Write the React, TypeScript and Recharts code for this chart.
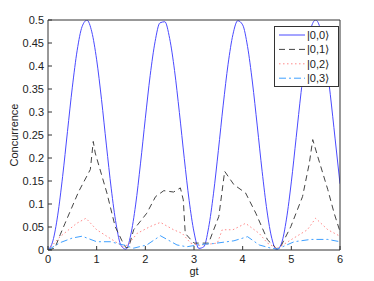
import { LineChart, Line, XAxis, YAxis } from "recharts";

// gt grid and |0,0> values
const gtGrid = [
  0, 0.1, 0.2, 0.3, 0.4, 0.5, 0.6, 0.7, 0.8, 0.9, 1.0, 1.1, 1.2, 1.3, 1.4, 1.5, 1.6, 1.7, 1.8, 1.9,
  2.0, 2.1, 2.2, 2.3, 2.4, 2.5, 2.6, 2.7, 2.8, 2.9, 3.0, 3.1, 3.2, 3.3, 3.4, 3.5, 3.6, 3.7, 3.8, 3.9,
  4.0, 4.1, 4.2, 4.3, 4.4, 4.5, 4.6, 4.7, 4.8, 4.9, 5.0, 5.1, 5.2, 5.3, 5.4, 5.5, 5.6, 5.7, 5.8, 5.9, 6.0,
];
const ket00 = [
  0, 0.0197, 0.0758, 0.1594, 0.2573, 0.354, 0.4343, 0.4855, 0.4996, 0.4742, 0.4134, 0.3268, 0.2281,
  0.1329, 0.0561, 0.01, 0.0017, 0.0326, 0.0979, 0.1872, 0.2864, 0.3798, 0.4528, 0.4937, 0.4962, 0.4597,
  0.3903, 0.2986, 0.1993, 0.1079, 0.039, 0.0035, 0.0068, 0.0485, 0.1221, 0.2158, 0.315, 0.4038, 0.4684,
  0.4985, 0.4894, 0.4425, 0.3652, 0.2697, 0.1711, 0.0849, 0.0248, 0.0003, 0.0152, 0.0672, 0.148, 0.2449,
  0.3426, 0.4257, 0.4811, 0.5, 0.4794, 0.4226, 0.3385, 0.2415, 0.144,
];

// |0,1>
const gt01 = [0, 0.14, 0.25, 0.35, 0.63, 0.87, 0.93, 0.97, 1.21, 1.38, 1.52, 1.6, 1.66, 1.76, 2.03, 2.21, 2.38, 2.58, 2.72, 2.78, 2.82, 3.0, 3.3, 3.51, 3.63, 3.82, 4.06, 4.27, 4.51, 4.7, 4.78, 4.99, 5.23, 5.37, 5.44, 5.54, 5.75, 5.88, 6.0];
const ket01 = [0, 0.004, 0.033, 0.058, 0.127, 0.175, 0.236, 0.211, 0.124, 0.051, 0.02, 0.005, 0.006, 0.044, 0.08, 0.116, 0.129, 0.126, 0.135, 0.109, 0.036, 0.015, 0.015, 0.073, 0.171, 0.142, 0.124, 0.08, 0.022, 0.003, 0.007, 0.051, 0.116, 0.189, 0.24, 0.204, 0.131, 0.08, 0.04];

// |0,2>
const gt02 = [0, 0.25, 0.59, 0.78, 1.0, 1.28, 1.55, 1.65, 1.83, 2.1, 2.31, 2.58, 2.76, 2.93, 3.1, 3.48, 3.58, 3.8, 4.06, 4.34, 4.51, 4.71, 4.99, 5.33, 5.5, 5.75, 6.0];
const ket02 = [0, 0.029, 0.058, 0.069, 0.044, 0.025, 0.007, 0.012, 0.036, 0.051, 0.06, 0.044, 0.036, 0.015, 0.01, 0.015, 0.044, 0.044, 0.058, 0.036, 0.015, 0.003, 0.022, 0.044, 0.069, 0.044, 0.03];

// |0,3>
const gt03 = [0, 0.25, 0.5, 0.7, 1.0, 1.28, 1.55, 1.76, 2.03, 2.31, 2.65, 2.85, 3.13, 3.4, 3.82, 4.1, 4.34, 4.58, 4.71, 5.06, 5.4, 5.75, 6.0];
const ket03 = [0, 0.016, 0.026, 0.03, 0.018, 0.018, 0.011, 0.004, 0.011, 0.031, 0.011, 0.007, 0.012, 0.014, 0.02, 0.029, 0.011, 0.004, 0.002, 0.018, 0.023, 0.023, 0.018];

const xTicks = [0, 1, 2, 3, 4, 5, 6];
const yTicks = [0, 0.05, 0.1, 0.15, 0.2, 0.25, 0.3, 0.35, 0.4, 0.45, 0.5];
const seriesNames = ["|0,0\u27E9", "|0,1\u27E9", "|0,2\u27E9", "|0,3\u27E9"];

const zip = (xs: number[], ys: number[]) => xs.map((x, i) => ({ gt: x, v: ys[i] }));

const AXIS = "#333333";
const FONT = "'Liberation Sans', Arial, sans-serif";
const styles = [
  { stroke: "#4a4aff", dash: undefined },
  { stroke: "#444444", dash: "6 4" },
  { stroke: "#ff8a8a", dash: "1.5 2.5" },
  { stroke: "#3fa0ff", dash: "7 3 2 3" },
];

// bottom tick: label plus inward tick mark
const BottomTick = (props: any) => {
  const { x, y, payload } = props;
  const axisY = y - 2 - 2;
  return (
    <g>
      <line x1={x} x2={x} y1={axisY} y2={axisY - 4} stroke={AXIS} />
      <text x={x} y={y} dy={9} textAnchor="middle" fontSize={11} fontFamily={FONT} fill="#222">
        {payload.value}
      </text>
    </g>
  );
};

const LeftTick = (props: any) => {
  const { x, y, payload } = props;
  const axisX = x + 2 + 2;
  return (
    <g>
      <line x1={axisX} x2={axisX + 4} y1={y} y2={y} stroke={AXIS} />
      <text x={x} y={y} dy={4} textAnchor="end" fontSize={11} fontFamily={FONT} fill="#222">
        {payload.value}
      </text>
    </g>
  );
};

const LegendBox = () => (
  <svg width={66} height={62} style={{ display: "block" }}>
    <rect x={0.5} y={0.5} width={64} height={60} fill="#fff" stroke={AXIS} />
    {seriesNames.map((name, i) => {
      const cy = 9 + i * 14.4;
      return (
        <g key={name}>
          <line x1={5} x2={31} y1={cy} y2={cy} stroke={styles[i].stroke} strokeDasharray={styles[i].dash} />
          <text x={33} y={cy + 4} fontSize={11} fontFamily={FONT} fill="#222">
            {name}
          </text>
        </g>
      );
    })}
  </svg>
);

export default function App() {
  const lines = [
    zip(gtGrid, ket00),
    zip(gt01, ket01),
    zip(gt02, ket02),
    zip(gt03, ket03),
  ];
  return (
    <div style={{ position: "absolute", left: 0, top: 0, width: 374, height: 281, background: "#fff" }}>
      <LineChart width={374} height={281} margin={{ top: 20, right: 34, left: 0, bottom: 0 }}>
        <XAxis
          dataKey="gt"
          type="number"
          domain={[0, 6]}
          ticks={xTicks}
          interval={0}
          allowDataOverflow
          height={31}
          stroke={AXIS}
          tickLine={false}
          tickSize={2}
          tickMargin={2}
          tick={<BottomTick />}
          label={{ value: "gt", position: "insideBottom", offset: 6, fontSize: 11, fontFamily: FONT, fill: "#222" }}
        />
        <XAxis
          xAxisId="top"
          dataKey="gt"
          type="number"
          domain={[0, 6]}
          ticks={xTicks}
          interval={0}
          orientation="top"
          height={1}
          mirror
          tick={false}
          tickSize={4}
          stroke={AXIS}
        />
        <YAxis
          type="number"
          domain={[0, 0.5]}
          ticks={yTicks}
          interval={0}
          allowDataOverflow
          width={48}
          stroke={AXIS}
          tickLine={false}
          tickSize={2}
          tickMargin={2}
          tick={<LeftTick />}
          label={{
            value: "Concurrence",
            angle: -90,
            position: "insideLeft",
            offset: 14,
            style: { textAnchor: "middle" },
            fontSize: 11,
            fontFamily: FONT,
            fill: "#222",
          }}
        />
        <YAxis
          yAxisId="right"
          type="number"
          domain={[0, 0.5]}
          ticks={yTicks}
          interval={0}
          orientation="right"
          width={1}
          mirror
          tick={false}
          tickSize={4}
          stroke={AXIS}
        />
        {lines.map((d, i) => (
          <Line
            key={seriesNames[i]}
            data={d}
            dataKey="v"
            name={seriesNames[i]}
            type={i === 0 ? "monotone" : "linear"}
            stroke={styles[i].stroke}
            strokeDasharray={styles[i].dash}
            strokeWidth={1}
            dot={false}
            activeDot={false}
            isAnimationActive={false}
          />
        ))}
      </LineChart>
      <div style={{ position: "absolute", left: 274, top: 26 }}>
        <LegendBox />
      </div>
    </div>
  );
}
